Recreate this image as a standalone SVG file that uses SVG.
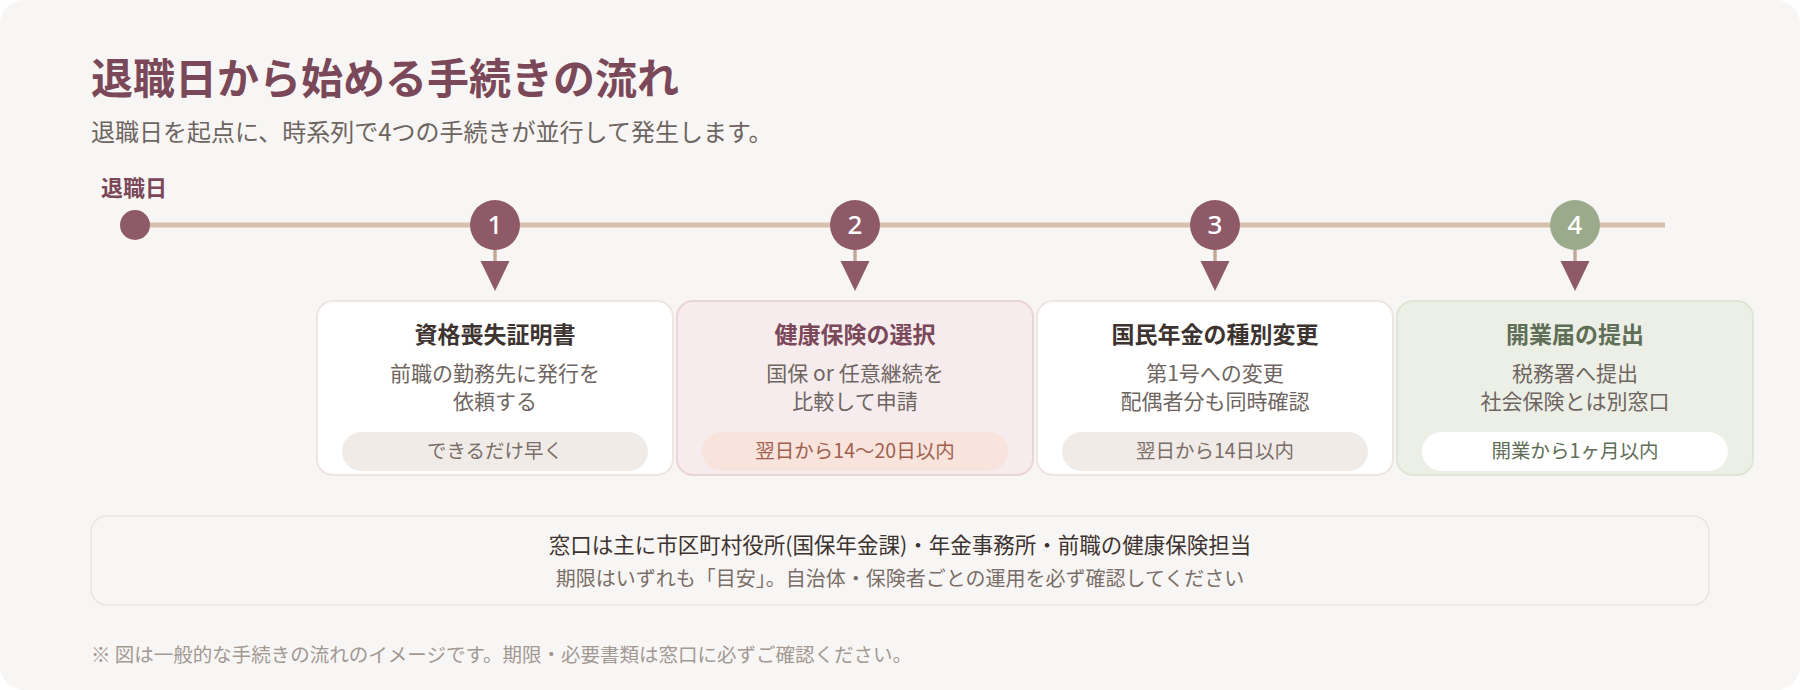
<svg xmlns="http://www.w3.org/2000/svg" width="1800" height="690" viewBox="0 0 1800 690">
<defs>
<style>
text{font-family:"Noto Sans CJK JP","Noto Sans",sans-serif;}
.title{font-size:42px;font-weight:600;fill:#7a4858;}
.sub{font-size:24px;fill:#6e6561;}
.start{font-size:22px;font-weight:700;fill:#7a4858;}
.num{font-size:26px;font-weight:500;fill:#ffffff;font-family:"Noto Sans","Noto Sans CJK JP",sans-serif;}
.ct{font-size:23px;font-weight:700;text-anchor:middle;}
.cd{font-size:21px;fill:#6e6561;text-anchor:middle;}
.pt{font-size:19.5px;text-anchor:middle;}
.card{stroke-width:2;}
.stem{stroke:#c4a897;stroke-width:3.5;}
.arrow{fill:#8e5a68;}
</style>
</defs>
<rect x="0" y="0" width="1800" height="690" fill="#ffffff"/>
<rect x="0" y="0" width="1800" height="690" rx="24" fill="#f8f6f4"/>
<g id="header">
<text class="title" x="91" y="94">退職日から始める手続きの流れ</text>
<text class="sub" x="91" y="141">退職日を起点に、時系列で4つの手続きが並行して発生します。</text>
</g>
<g id="connectors">
<line x1="135" y1="225" x2="1665" y2="225" stroke="#d5c0ae" stroke-width="5"/>
<line class="stem" x1="495" y1="248" x2="495" y2="262"/>
<polygon class="arrow" points="480.5,261 509.5,261 495,291"/>
<line class="stem" x1="855" y1="248" x2="855" y2="262"/>
<polygon class="arrow" points="840.5,261 869.5,261 855,291"/>
<line class="stem" x1="1215" y1="248" x2="1215" y2="262"/>
<polygon class="arrow" points="1200.5,261 1229.5,261 1215,291"/>
<line class="stem" x1="1575" y1="248" x2="1575" y2="262"/>
<polygon class="arrow" points="1560.5,261 1589.5,261 1575,291"/>
</g>
<g id="start">
<text class="start" x="101" y="196">退職日</text>
<circle cx="135" cy="225" r="15" fill="#8e5a68"/>
</g>
<g id="marker1">
<circle cx="495" cy="225" r="25" fill="#8e5a68"/>
<text class="num" x="495" y="234" text-anchor="middle">1</text>
</g>
<g id="marker2">
<circle cx="855" cy="225" r="25" fill="#8e5a68"/>
<text class="num" x="855" y="234" text-anchor="middle">2</text>
</g>
<g id="marker3">
<circle cx="1215" cy="225" r="25" fill="#8e5a68"/>
<text class="num" x="1215" y="234" text-anchor="middle">3</text>
</g>
<g id="marker4">
<circle cx="1575" cy="225" r="25" fill="#9caa8c"/>
<text class="num" x="1575" y="234" text-anchor="middle">4</text>
</g>
<g id="card1">
<rect class="card" x="317" y="301" width="356" height="174" rx="16" fill="#ffffff" stroke="#efe5e1"/>
<text class="ct" x="495" y="343" fill="#3d3330">資格喪失証明書</text>
<text class="cd" x="495" y="381">前職の勤務先に発行を</text>
<text class="cd" x="495" y="409">依頼する</text>
<rect x="342" y="432" width="306" height="39" rx="19.5" fill="#f1ebe7"/>
<text class="pt" x="495" y="458" fill="#7a6e68">できるだけ早く</text>
</g>
<g id="card2">
<rect class="card" x="677" y="301" width="356" height="174" rx="16" fill="#f6ecee" stroke="#e9d4d9"/>
<text class="ct" x="855" y="343" fill="#7a4858">健康保険の選択</text>
<text class="cd" x="855" y="381">国保 or 任意継続を</text>
<text class="cd" x="855" y="409">比較して申請</text>
<rect x="702" y="432" width="306" height="39" rx="19.5" fill="#f8e4dc"/>
<text class="pt" x="855" y="458" fill="#a0604f">翌日から14〜20日以内</text>
</g>
<g id="card3">
<rect class="card" x="1037" y="301" width="356" height="174" rx="16" fill="#ffffff" stroke="#efe5e1"/>
<text class="ct" x="1215" y="343" fill="#3d3330">国民年金の種別変更</text>
<text class="cd" x="1215" y="381">第1号への変更</text>
<text class="cd" x="1215" y="409">配偶者分も同時確認</text>
<rect x="1062" y="432" width="306" height="39" rx="19.5" fill="#f1ebe7"/>
<text class="pt" x="1215" y="458" fill="#7a6e68">翌日から14日以内</text>
</g>
<g id="card4">
<rect class="card" x="1397" y="301" width="356" height="174" rx="16" fill="#ecefe6" stroke="#dfe5d7"/>
<text class="ct" x="1575" y="343" fill="#5f6e56">開業届の提出</text>
<text class="cd" x="1575" y="381">税務署へ提出</text>
<text class="cd" x="1575" y="409">社会保険とは別窓口</text>
<rect x="1422" y="432" width="306" height="39" rx="19.5" fill="#ffffff"/>
<text class="pt" x="1575" y="458" fill="#5f6e56">開業から1ヶ月以内</text>
</g>
<g id="note">
<rect x="91" y="516" width="1618" height="89" rx="16" fill="#f8f6f4" stroke="#ebe3de" stroke-width="1.5"/>
<text x="900" y="553" text-anchor="middle" font-size="21.5" fill="#3d3330">窓口は主に市区町村役所(国保年金課)・年金事務所・前職の健康保険担当</text>
<text x="900" y="586" text-anchor="middle" font-size="20" fill="#7a6e68">期限はいずれも「目安」。自治体・保険者ごとの運用を必ず確認してください</text>
</g>
<g id="footnote">
<text x="91" y="662" font-size="19.5" fill="#a39993">※ 図は一般的な手続きの流れのイメージです。期限・必要書類は窓口に必ずご確認ください。</text>
</g>
</svg>
